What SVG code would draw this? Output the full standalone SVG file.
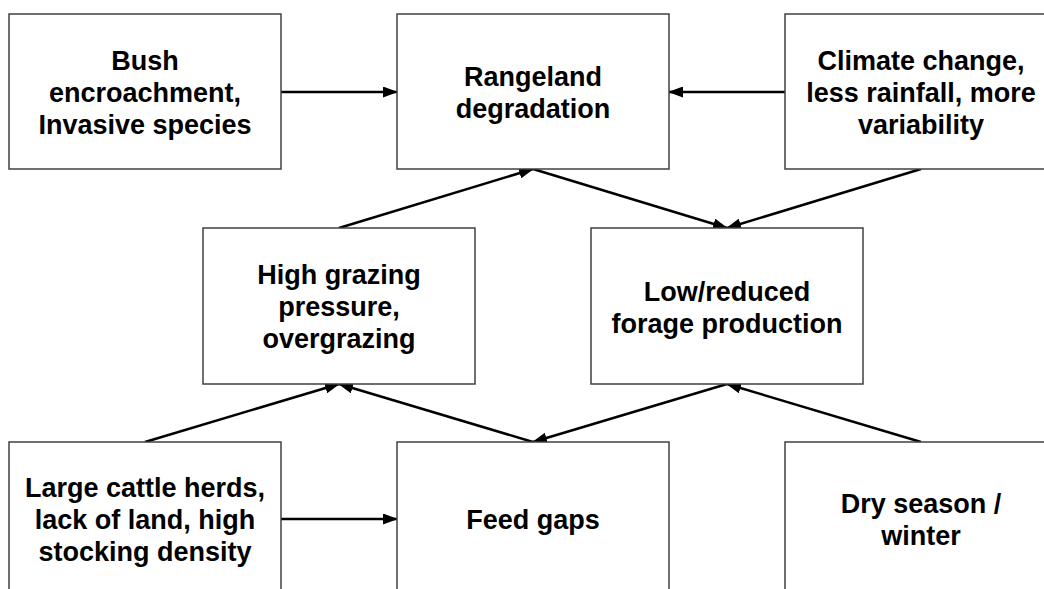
<svg xmlns="http://www.w3.org/2000/svg" width="1044" height="589" viewBox="0 0 1044 589">
  <style>
    .box { fill: #ffffff; stroke: #404040; stroke-width: 1.5; }
    .lbl { font-family: "Liberation Sans", Arial, sans-serif; font-weight: bold; font-size: 27px; fill: #000000; text-anchor: middle; }
    .edge { stroke: #000000; stroke-width: 2.5; fill: none; marker-end: url(#arrow); }
  </style>
  <defs>
    <marker id="arrow" markerUnits="userSpaceOnUse" markerWidth="15" markerHeight="11" refX="14" refY="5.5" orient="auto">
      <path d="M0,0 L15,5.5 L0,11 z" fill="#000000"/>
    </marker>
  </defs>
  <rect width="1044" height="589" fill="#ffffff"/>

  <g id="connectors">
    <line class="edge" x1="281" y1="92" x2="397" y2="92"/>
    <line class="edge" x1="785" y1="92" x2="669" y2="92"/>
    <line class="edge" x1="339" y1="228" x2="533" y2="169"/>
    <line class="edge" x1="533" y1="169" x2="727" y2="228"/>
    <line class="edge" x1="921" y1="169" x2="727" y2="228"/>
    <line class="edge" x1="145" y1="442" x2="339" y2="384"/>
    <line class="edge" x1="533" y1="442" x2="339" y2="384"/>
    <line class="edge" x1="727" y1="384" x2="533" y2="442"/>
    <line class="edge" x1="921" y1="442" x2="727" y2="384"/>
    <line class="edge" x1="281" y1="519" x2="397" y2="519"/>
  </g>

  <g id="bush">
    <rect class="box" x="9" y="14" width="272" height="155"/>
    <text class="lbl" x="145" y="70">Bush</text>
    <text class="lbl" x="145" y="102">encroachment,</text>
    <text class="lbl" x="145" y="134">Invasive species</text>
  </g>
  <g id="rangeland">
    <rect class="box" x="397" y="14" width="272" height="155"/>
    <text class="lbl" x="533" y="86">Rangeland</text>
    <text class="lbl" x="533" y="118">degradation</text>
  </g>
  <g id="climate">
    <rect class="box" x="785" y="14" width="272" height="155"/>
    <text class="lbl" x="921" y="70">Climate change,</text>
    <text class="lbl" x="921" y="102">less rainfall, more</text>
    <text class="lbl" x="921" y="134">variability</text>
  </g>
  <g id="grazing">
    <rect class="box" x="203" y="228" width="272" height="156"/>
    <text class="lbl" x="339" y="284">High grazing</text>
    <text class="lbl" x="339" y="316">pressure,</text>
    <text class="lbl" x="339" y="348">overgrazing</text>
  </g>
  <g id="forage">
    <rect class="box" x="591" y="228" width="272" height="156"/>
    <text class="lbl" x="727" y="301">Low/reduced</text>
    <text class="lbl" x="727" y="333">forage production</text>
  </g>
  <g id="cattle">
    <rect class="box" x="9" y="442" width="272" height="156"/>
    <text class="lbl" x="145" y="497">Large cattle herds,</text>
    <text class="lbl" x="145" y="529">lack of land, high</text>
    <text class="lbl" x="145" y="561">stocking density</text>
  </g>
  <g id="feedgaps">
    <rect class="box" x="397" y="442" width="272" height="156"/>
    <text class="lbl" x="533" y="529">Feed gaps</text>
  </g>
  <g id="dryseason">
    <rect class="box" x="785" y="442" width="272" height="156"/>
    <text class="lbl" x="921" y="513">Dry season /</text>
    <text class="lbl" x="921" y="545">winter</text>
  </g>
</svg>
